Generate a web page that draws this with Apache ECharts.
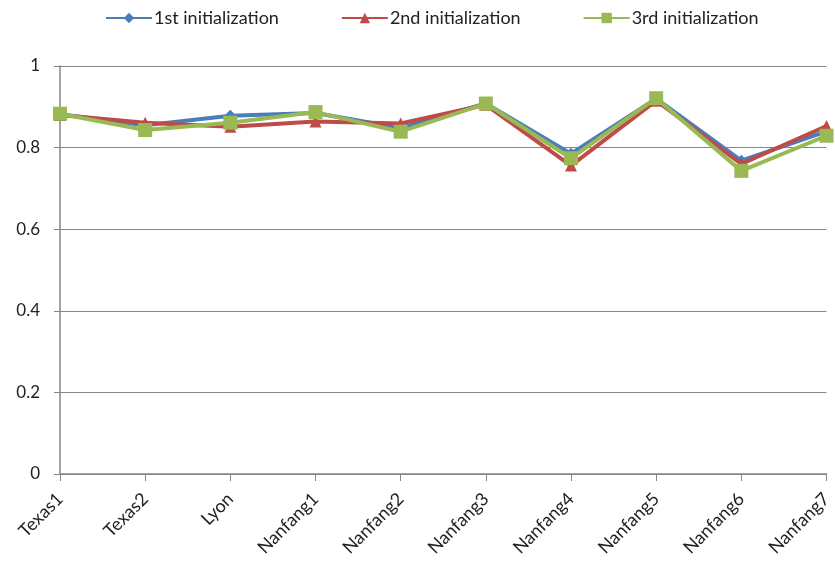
<!DOCTYPE html>
<html>
<head>
<meta charset="utf-8">
<script src="https://cdn.jsdelivr.net/npm/echarts@6/dist/echarts.min.js"></script>
<style>
  html, body { margin: 0; padding: 0; background: #fff; }
  #chart { width: 835px; height: 571px; }
</style>
</head>
<body>
<div id="chart"></div>
<script>
// Datasets along the x axis
const categories = ['Texas1', 'Texas2', 'Lyon', 'Nanfang1', 'Nanfang2', 'Nanfang3', 'Nanfang4', 'Nanfang5', 'Nanfang6', 'Nanfang7'];

// Scores for each initialization run
const seriesNames = ['1st initialization', '2nd initialization', '3rd initialization'];
const firstInit  = [0.882, 0.855, 0.878, 0.885, 0.848, 0.908, 0.785, 0.920, 0.768, 0.840];
const secondInit = [0.880, 0.861, 0.851, 0.864, 0.859, 0.905, 0.756, 0.915, 0.760, 0.853];
const thirdInit  = [0.883, 0.843, 0.861, 0.887, 0.839, 0.908, 0.774, 0.921, 0.743, 0.829];

const colors = ['#4A7EBB', '#BE4B48', '#98B954'];
const symbols = ['diamond', 'triangle', 'rect'];
const symbolSizes = [12, 12, 14];
const values = [firstInit, secondInit, thirdInit];

const fontFamily = 'Lato, "Open Sans", sans-serif';

const chart = echarts.init(document.getElementById('chart'));
chart.setOption({
  animation: false,
  textStyle: { fontFamily: fontFamily },
  legend: {
    top: 4,
    left: 100,
    itemWidth: 46,
    itemHeight: 13,
    itemGap: 62,
    textStyle: { fontSize: 18, color: '#222', fontFamily: fontFamily, padding: [0, 0, 0, -3] },
    data: seriesNames
  },
  grid: { left: 60, right: 3, top: 66, bottom: 97 },
  xAxis: {
    type: 'category',
    data: categories,
    boundaryGap: false,
    axisLine: { lineStyle: { color: '#868686', width: 1.5 } },
    axisTick: { show: true, length: 7, lineStyle: { color: '#868686' } },
    axisLabel: {
      rotate: 45,
      fontSize: 18,
      color: '#222',
      margin: 22,
      fontFamily: fontFamily
    },
    splitLine: { show: false }
  },
  yAxis: {
    type: 'value',
    min: 0,
    max: 1,
    interval: 0.2,
    axisLine: { show: true, lineStyle: { color: '#868686', width: 1.5 } },
    axisTick: { show: true, length: 6, lineStyle: { color: '#868686' } },
    axisLabel: {
      fontSize: 17,
      color: '#222',
      margin: 20,
      fontFamily: fontFamily,
      formatter: function (v) { return String(Math.round(v * 10) / 10); }
    },
    splitLine: { show: true, lineStyle: { color: '#868686', width: 1.2 } }
  },
  series: seriesNames.map(function (name, i) {
    return {
      name: name,
      type: 'line',
      data: values[i],
      symbol: symbols[i],
      symbolSize: symbolSizes[i],
      showAllSymbol: true,
      lineStyle: { color: colors[i], width: 4 },
      itemStyle: { color: colors[i] },
      z: 2 + i
    };
  })
});
</script>
</body>
</html>
